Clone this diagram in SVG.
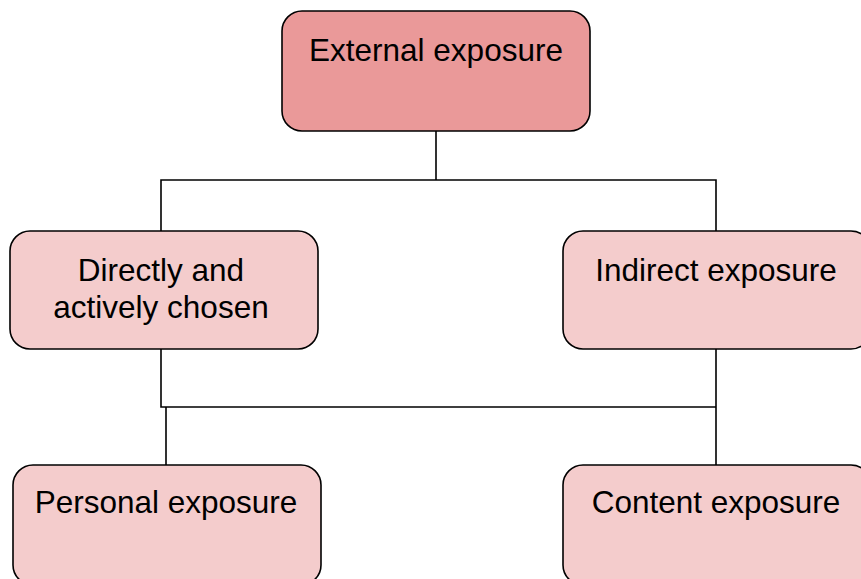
<svg xmlns="http://www.w3.org/2000/svg" width="861" height="579" viewBox="0 0 861 579">
<style>
.box{stroke:#000;stroke-width:1.6}
.top{fill:#EA9999}
.sub{fill:#F4CCCC}
.lbl{font-family:"Liberation Sans",Arial,sans-serif;font-size:31.5px;fill:#000;text-anchor:middle}
.conn{fill:none;stroke:#000;stroke-width:1.6}
</style>
<rect width="861" height="579" fill="#fff"/>
<g id="connectors">
<path class="conn" d="M436 131 V180 M161 231 V180 H716 V231"/>
<path class="conn" d="M161 349 V407 H716 M716 349 V465 M166 407 V465"/>
</g>
<g id="external">
<rect class="box top" x="282" y="11" width="308" height="120" rx="20"/>
<text class="lbl" x="436" y="61">External exposure</text>
</g>
<g id="direct">
<rect class="box sub" x="10" y="231" width="308" height="118" rx="20"/>
<text class="lbl" x="161" y="281">Directly and</text>
<text class="lbl" x="161" y="318">actively chosen</text>
</g>
<g id="indirect">
<rect class="box sub" x="563" y="231" width="308" height="118" rx="20"/>
<text class="lbl" x="716" y="281">Indirect exposure</text>
</g>
<g id="personal">
<rect class="box sub" x="13" y="465" width="308" height="120" rx="20"/>
<text class="lbl" x="166" y="513">Personal exposure</text>
</g>
<g id="content">
<rect class="box sub" x="563" y="465" width="308" height="120" rx="20"/>
<text class="lbl" x="716" y="513">Content exposure</text>
</g>
</svg>
